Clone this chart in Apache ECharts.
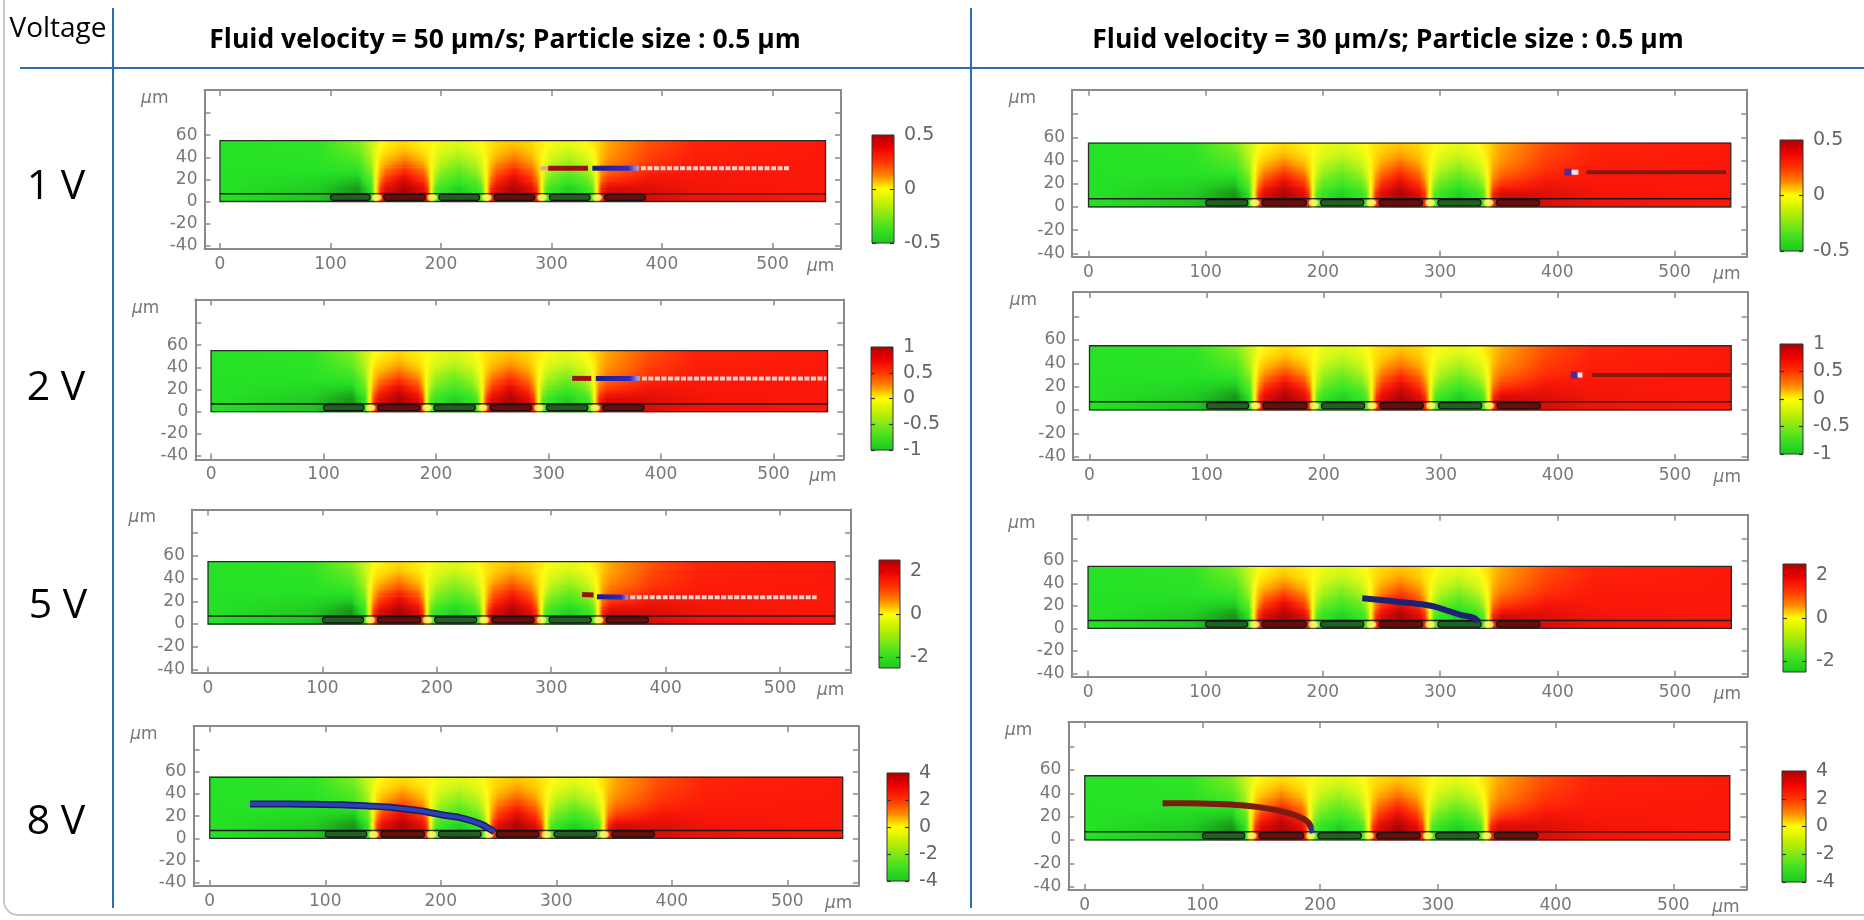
<!DOCTYPE html>
<html><head><meta charset="utf-8">
<script src="https://cdn.jsdelivr.net/npm/echarts@6/dist/echarts.min.js"></script>
<style>html,body{margin:0;padding:0;background:#fff}#c{width:1864px;height:920px}</style>
</head><body><div id="c"></div>
<script>
// ================= DATA =================
const VOLTAGE_LABELS = ['1 V', '2 V', '5 V', '8 V'];
const VOLTAGES = [1, 2, 5, 8];
const COLUMN_TITLES = ['Fluid velocity = 50 µm/s; Particle size : 0.5 µm', 'Fluid velocity = 30 µm/s; Particle size : 0.5 µm'];
const X_TICKS = [0, 100, 200, 300, 400, 500];
const Y_TICKS = [-40, -20, 0, 20, 40, 60, 80];
const Y_LABELS = [-40, -20, 0, 20, 40, 60];
const X_RANGE = [-14, 562];
const Y_RANGE = [-43, 101];
const CB_TICKS = [[-0.5, 0, 0.5], [-1, -0.5, 0, 0.5, 1], [-2, 0, 2], [-4, -2, 0, 2, 4]];

// channel geometry (µm): x0, x1, y0, y1, electrode-layer top
const CHANNEL = [0, 548, 0, 55, 7];
// electrodes: x start, x end, polarity
const ELECTRODES = [[100, 136, -1], [148, 186, 1], [198, 235, -1], [248, 285, 1], [298, 335, -1], [348, 385, 1]];
const ELECTRODE_Y = [1, 6.3];
const GAPS = [142, 192, 241.5, 291.5, 341.5];
const GAP_Y = 3.5;

// normalised potential field (same pattern in every panel)
const FIELD_X = [0, 90, 125, 137, 141, 145, 150, 167, 184, 188, 191, 195, 200, 216, 232, 237, 241, 245, 250, 266, 282, 287, 291, 295, 300, 316, 332, 337, 341, 345, 352, 390, 430, 548];
const FIELD_Y = [0, 13, 19, 25, 31, 37, 43, 49, 55];
const FIELD_B1 = [-0.72, -0.78, -0.9, -0.72, 0, 0.7, 0.85, 0.93, 0.85, 0.7, 0, -0.6, -0.7, -0.78, -0.7, -0.6, 0, 0.7, 0.85, 0.93, 0.85, 0.7, 0, -0.6, -0.7, -0.78, -0.7, -0.6, 0, 0.75, 0.88, 0.82, 0.76, 0.72];
const FIELD_B2 = [-0.72, -0.75, -0.83, -0.6, -0.02, 0.5, 0.72, 0.88, 0.72, 0.5, 0, -0.42, -0.58, -0.7, -0.58, -0.42, 0, 0.5, 0.72, 0.88, 0.72, 0.5, 0, -0.42, -0.56, -0.7, -0.56, -0.42, 0.01, 0.55, 0.72, 0.78, 0.74, 0.72];
const FIELD_B3 = [-0.72, -0.74, -0.76, -0.5, -0.03, 0.36, 0.58, 0.8, 0.58, 0.36, 0, -0.3, -0.46, -0.6, -0.46, -0.3, 0.01, 0.38, 0.6, 0.8, 0.6, 0.38, 0.01, -0.3, -0.44, -0.6, -0.43, -0.28, 0.02, 0.42, 0.58, 0.74, 0.73, 0.72];
const FIELD_B4 = [-0.72, -0.72, -0.7, -0.4, -0.05, 0.26, 0.44, 0.66, 0.44, 0.25, 0, -0.22, -0.36, -0.5, -0.35, -0.2, 0.02, 0.3, 0.48, 0.68, 0.48, 0.28, 0.02, -0.2, -0.33, -0.48, -0.32, -0.18, 0.04, 0.34, 0.48, 0.68, 0.72, 0.72];
const FIELD_B5 = [-0.72, -0.71, -0.62, -0.32, -0.07, 0.18, 0.3, 0.5, 0.3, 0.16, 0, -0.15, -0.27, -0.4, -0.26, -0.13, 0.03, 0.22, 0.36, 0.54, 0.36, 0.2, 0.03, -0.12, -0.24, -0.37, -0.22, -0.1, 0.06, 0.28, 0.4, 0.63, 0.71, 0.72];
const FIELD_B6 = [-0.72, -0.7, -0.55, -0.27, -0.09, 0.1, 0.19, 0.36, 0.19, 0.1, 0.01, -0.1, -0.19, -0.3, -0.18, -0.08, 0.04, 0.16, 0.26, 0.41, 0.26, 0.14, 0.04, -0.06, -0.16, -0.27, -0.14, -0.04, 0.08, 0.24, 0.35, 0.6, 0.7, 0.72];
const FIELD_B7 = [-0.72, -0.69, -0.48, -0.23, -0.11, 0.04, 0.1, 0.24, 0.1, 0.05, 0.01, -0.06, -0.12, -0.21, -0.11, -0.03, 0.05, 0.12, 0.19, 0.3, 0.19, 0.1, 0.05, -0.02, -0.09, -0.18, -0.07, 0.02, 0.1, 0.22, 0.32, 0.57, 0.69, 0.72];
const FIELD_B8 = [-0.72, -0.68, -0.42, -0.2, -0.13, 0, 0.04, 0.15, 0.05, 0.03, 0.02, -0.03, -0.07, -0.14, -0.05, 0, 0.06, 0.1, 0.14, 0.22, 0.15, 0.08, 0.06, 0.01, -0.03, -0.1, -0.01, 0.06, 0.12, 0.2, 0.3, 0.55, 0.68, 0.72];

// particle trajectories (x µm, y µm)
const T_1V50_HEAD = [[290, 30], [297, 30]];
const T_1V50_RED = [[297, 30], [333, 30]];
const T_1V50_BLUE = [[337, 30], [379, 30]];
const T_1V50_TRAIL = [[381, 30], [516, 30]];
const T_1V30_DOT = [[409, 30]];
const T_1V30_WHITE = [[412, 30], [418, 30]];
const T_1V30_RED = [[425, 30], [544, 30]];
const T_2V50_RED = [[321, 30], [338, 30]];
const T_2V50_BLUE = [[342, 30], [381, 30]];
const T_2V50_TRAIL = [[383, 30], [547, 30]];
const T_2V30_DOT = [[414, 30]];
const T_2V30_WHITE = [[416, 30], [421, 30]];
const T_2V30_RED = [[429, 30], [548, 30]];
const T_5V50_RED = [[327, 26], [337, 25.5]];
const T_5V50_BLUE = [[340, 24], [367, 23.5]];
const T_5V50_TRAIL = [[369, 23.5], [532, 23.5]];
const T_5V30 = [[233.6, 26.7], [249.7, 25.2], [263.3, 23.7], [277, 22.2], [288.4, 20.7], [297.5, 18.7], [304.4, 16.3], [311.2, 13.9], [318.1, 11.8], [325, 10.3], [329.5, 8.9], [332.7, 5.9]];
const T_8V50 = [[34.8, 30.9], [67.3, 30.9], [90.5, 30.6], [113.7, 30.3], [136.9, 29.1], [160, 27.6], [183.2, 24.6], [201.8, 21], [215.7, 18.9], [227.3, 15.6], [236.5, 12], [242.6, 8.1], [246.3, 6]];
const T_8V30 = [[66.1, 31.4], [87.3, 31.4], [112.6, 30.8], [132.8, 29.7], [150.5, 27.7], [165.6, 24.9], [178.3, 21.4], [185.8, 18], [190.4, 14.3], [192.4, 10]];
const T_8V30_TIP = [[191.8, 11.5], [192.4, 10], [193.4, 5.7]];

// ================= LAYOUT & STYLE =================
// panel order: row-major (1V-50, 1V-30, 2V-50, 2V-30, ...); box = [left, top, width, height] px
const PANEL_BOX = [
  [204.5, 89.9, 636.5, 159.1], [1072.1, 89.8, 675.1, 167.0],
  [195.3, 299.6, 648.0, 159.8], [1073.1, 292.1, 674.5, 168.0],
  [192.0, 509.4, 659.0, 163.4], [1071.6, 514.7, 676.2, 162.0],
  [193.6, 726.2, 665.3, 159.8], [1068.3, 722.1, 678.0, 168.0]
];
const CB_BOX = [
  [872, 135, 22, 108], [1780, 140, 23, 111],
  [871, 347, 22, 103], [1780, 344, 23, 110],
  [879, 560, 21, 108], [1783, 564, 23, 108],
  [887, 773, 22, 108], [1782, 771, 24, 111]
];
const ROW_LABEL_POS = [[56, 187], [56, 388], [58, 606], [56, 822]];
const TITLE_POS = [[505, 40], [1388, 40]];

const FIELD_CMAP = [[-1, [12, 78, 12]], [-0.9, [22, 140, 22]], [-0.72, [38, 226, 38]], [-0.45, [112, 236, 32]], [-0.2, [200, 246, 24]], [0, [255, 252, 20]], [0.2, [255, 200, 0]], [0.4, [255, 128, 0]], [0.6, [255, 60, 6]], [0.72, [252, 24, 8]], [0.88, [196, 8, 6]], [1, [118, 0, 0]]];
const CB_STOPS = [[0, '#b00000'], [0.12, '#ee0000'], [0.25, '#ff3300'], [0.38, '#ff8800'], [0.5, '#ffff00'], [0.62, '#c8f000'], [0.75, '#80e818'], [0.88, '#3ade22'], [1, '#1cc81c']];
const AXIS_GRAY = '#8a8a8a';
const LABEL_GRAY = '#777777';
const FONT_AX = 'DejaVu Sans';

function fieldColor(v) {
  v = Math.max(-1, Math.min(1, v));
  for (let i = 0; i < FIELD_CMAP.length - 1; i++) {
    const a = FIELD_CMAP[i], b = FIELD_CMAP[i + 1];
    if (v <= b[0]) {
      const t = (v - a[0]) / (b[0] - a[0]);
      const c = a[1].map((x, k) => Math.round(x + (b[1][k] - x) * t));
      return 'rgb(' + c.join(',') + ')';
    }
  }
  return 'rgb(118,0,0)';
}
const FIELD_ROWS = [FIELD_B1, FIELD_B2, FIELD_B3, FIELD_B4, FIELD_B5, FIELD_B6, FIELD_B7, FIELD_B8];
function bandGradient(row) {
  const X = FIELD_X, L = X[X.length - 1] - X[0], stops = [];
  for (let k = 0; k < X.length - 1; k++) {
    const n = 3;
    for (let s = 0; s < n; s++) {
      const t = s / n;
      stops.push({ offset: (X[k] + (X[k + 1] - X[k]) * t - X[0]) / L, color: fieldColor(row[k] + (row[k + 1] - row[k]) * t) });
    }
  }
  stops.push({ offset: 1, color: fieldColor(row[row.length - 1]) });
  return new echarts.graphic.LinearGradient(0, 0, 1, 0, stops);
}
const BAND_FILLS = FIELD_ROWS.map(bandGradient);

// each band is shaded with its own gradient; its edges are softened toward the neighbouring band
function fieldRender(params, api) {
  const b = params.dataIndex, nb = FIELD_ROWS.length;
  const p0 = api.coord([FIELD_X[0], FIELD_Y[b + 1]]);
  const p1 = api.coord([FIELD_X[FIELD_X.length - 1], FIELD_Y[b]]);
  const x = p0[0], y = p0[1], w = p1[0] - p0[0], h = p1[1] - p0[1];
  const kids = [{ type: 'rect', shape: { x: x, y: y - 0.5, width: w, height: h + 1 }, style: { fill: BAND_FILLS[b] } }];
  if (b > 0) kids.push({ type: 'rect', shape: { x: x, y: y + h * 2 / 3, width: w, height: h / 3 + 0.5 }, style: { fill: BAND_FILLS[b - 1], opacity: 0.33 } });
  if (b < nb - 1) kids.push({ type: 'rect', shape: { x: x, y: y, width: w, height: h / 3 }, style: { fill: BAND_FILLS[b + 1], opacity: 0.33 } });
  return { type: 'group', silent: true, children: kids };
}
function channelRender(params, api) {
  const a = api.coord([api.value(0), api.value(3)]);
  const b = api.coord([api.value(1), api.value(2)]);
  const l = api.coord([api.value(0), api.value(4)]);
  return { type: 'group', silent: true, children: [
    { type: 'rect', shape: { x: a[0], y: a[1], width: b[0] - a[0], height: b[1] - a[1] }, style: { fill: 'none', stroke: '#2a2a2a', lineWidth: 1.3 } },
    { type: 'line', shape: { x1: a[0], y1: l[1], x2: b[0], y2: l[1] }, style: { stroke: '#1a1a1a', lineWidth: 1.6 } }
  ] };
}
function electrodeRender(params, api) {
  const p0 = api.coord([api.value(0), ELECTRODE_Y[1]]);
  const p1 = api.coord([api.value(1), ELECTRODE_Y[0]]);
  const pos = api.value(2) > 0;
  return { type: 'rect', silent: true, shape: { x: p0[0], y: p0[1], width: p1[0] - p0[0], height: p1[1] - p0[1], r: 3 },
    style: { fill: pos ? '#6a0c08' : '#1f621f', stroke: '#111', lineWidth: 1.1 } };
}
function cbRender(params, api) {
  const half = api.value(1);
  const p0 = api.coord([0, half]), p1 = api.coord([1, -half]);
  return { type: 'rect', silent: true, shape: { x: p0[0], y: p0[1], width: p1[0] - p0[0], height: p1[1] - p0[1] },
    style: { fill: new echarts.graphic.LinearGradient(0, 0, 0, 1, CB_STOPS.map(s => ({ offset: s[0], color: s[1] }))), stroke: '#333', lineWidth: 1 } };
}

const TRAJ_STYLE = {
  head: { color: '#e7a09c', width: 4 },
  red: { color: '#9c1212', width: 5 },
  blue: { color: new echarts.graphic.LinearGradient(0, 0, 1, 0, [{ offset: 0, color: '#1a1a80' }, { offset: 0.75, color: '#2a2ad0' }, { offset: 1, color: '#d8c8f0' }]), width: 5 },
  trail: { color: '#f4d3cf', width: 4, type: [5, 1.5] },
  white: { color: '#f2e6f0', width: 5 },
  dark: { color: '#861812', width: 4 },
  navy: { color: '#1e2272', width: 6 },
  blueUnder: { color: '#161d62', width: 7 },
  blueOver: { color: '#2f3fb4', width: 4 },
  brown: { color: '#7a1c12', width: 6 },
  tip: { color: '#2433a8', width: 5 }
};
const TRAJ_SEGMENTS = [
  [0, T_1V50_HEAD, 'head'], [0, T_1V50_RED, 'red'], [0, T_1V50_BLUE, 'blue'], [0, T_1V50_TRAIL, 'trail'],
  [1, T_1V30_WHITE, 'white'], [1, T_1V30_RED, 'dark'],
  [2, T_2V50_RED, 'red'], [2, T_2V50_BLUE, 'blue'], [2, T_2V50_TRAIL, 'trail'],
  [3, T_2V30_WHITE, 'white'], [3, T_2V30_RED, 'dark'],
  [4, T_5V50_RED, 'red'], [4, T_5V50_BLUE, 'blue'], [4, T_5V50_TRAIL, 'trail'],
  [5, T_5V30, 'navy'],
  [6, T_8V50, 'blueUnder'], [6, T_8V50, 'blueOver'],
  [7, T_8V30, 'brown'], [7, T_8V30_TIP, 'tip']
];
const TRAJ_DOTS = [[1, T_1V30_DOT], [3, T_2V30_DOT]];

// ================= OPTION =================
const grid = [], xAxis = [], yAxis = [], series = [];
const FRAME = { color: AXIS_GRAY, width: 2 };
const TICK = { color: AXIS_GRAY, width: 1.5 };
const unitRich = { i: { fontStyle: 'italic', fontSize: 17, color: LABEL_GRAY, fontFamily: FONT_AX } };

PANEL_BOX.forEach((b, i) => {
  grid.push({ left: b[0], top: b[1], width: b[2], height: b[3] });
  xAxis.push({ gridIndex: i, type: 'value', min: X_RANGE[0], max: X_RANGE[1], position: 'bottom', z: 5,
    axisLine: { show: true, onZero: false, lineStyle: FRAME },
    axisTick: { show: true, inside: true, length: 6, customValues: X_TICKS, lineStyle: TICK },
    axisLabel: { show: true, customValues: X_TICKS, margin: 7, color: LABEL_GRAY, fontSize: 17, fontFamily: FONT_AX },
    splitLine: { show: false },
    name: '{i|µ}m', nameLocation: 'end', nameGap: -34,
    nameTextStyle: { color: LABEL_GRAY, fontSize: 17, fontFamily: FONT_AX, align: 'left', verticalAlign: 'top', padding: [9, 0, 0, 0], rich: unitRich } });
  xAxis.push({ gridIndex: i, type: 'value', min: X_RANGE[0], max: X_RANGE[1], position: 'top', z: 5,
    axisLine: { show: true, onZero: false, lineStyle: FRAME },
    axisTick: { show: true, inside: true, length: 6, customValues: X_TICKS, lineStyle: TICK },
    axisLabel: { show: false }, splitLine: { show: false } });
  yAxis.push({ gridIndex: i, type: 'value', min: Y_RANGE[0], max: Y_RANGE[1], position: 'left', z: 5,
    axisLine: { show: true, onZero: false, lineStyle: FRAME },
    axisTick: { show: true, inside: true, length: 6, customValues: Y_TICKS, lineStyle: TICK },
    axisLabel: { show: true, customValues: Y_LABELS, margin: 7, color: LABEL_GRAY, fontSize: 17, fontFamily: FONT_AX },
    splitLine: { show: false },
    name: '{i|µ}m', nameLocation: 'end', nameGap: 0,
    nameTextStyle: { color: LABEL_GRAY, fontSize: 17, fontFamily: FONT_AX, align: 'right', verticalAlign: 'top', padding: [0, 36, 0, 0], rich: unitRich } });
  yAxis.push({ gridIndex: i, type: 'value', min: Y_RANGE[0], max: Y_RANGE[1], position: 'right', z: 5,
    axisLine: { show: true, onZero: false, lineStyle: FRAME },
    axisTick: { show: true, inside: true, length: 6, customValues: Y_TICKS, lineStyle: TICK },
    axisLabel: { show: false }, splitLine: { show: false } });

  const ax = { xAxisIndex: 2 * i, yAxisIndex: 2 * i };
  series.push(Object.assign({ type: 'custom', renderItem: fieldRender, data: FIELD_ROWS.map((r, k) => [k]), z: 1, silent: true, animation: false }, ax));
  series.push(Object.assign({ type: 'custom', renderItem: channelRender, data: [CHANNEL], z: 2, silent: true, animation: false }, ax));
  series.push(Object.assign({ type: 'custom', renderItem: electrodeRender, data: ELECTRODES, z: 3, silent: true, animation: false }, ax));
  series.push(Object.assign({ type: 'scatter', data: GAPS.map(g => [g, GAP_Y]), symbol: 'circle', symbolSize: [9, 6],
    itemStyle: { color: '#faf06a', shadowBlur: 3, shadowColor: '#ffff40' }, z: 4, silent: true, animation: false }, ax));
});

TRAJ_SEGMENTS.forEach(([p, data, st]) => {
  const s = TRAJ_STYLE[st];
  series.push({ type: 'line', xAxisIndex: 2 * p, yAxisIndex: 2 * p, data: data, symbol: 'none', smooth: data.length > 3 ? 0.3 : false,
    lineStyle: { color: s.color, width: s.width, type: s.type || 'solid', cap: 'butt' }, z: 6, silent: true, animation: false });
});
TRAJ_DOTS.forEach(([p, data]) => {
  series.push({ type: 'scatter', xAxisIndex: 2 * p, yAxisIndex: 2 * p, data: data, symbol: 'rect', symbolSize: 7,
    itemStyle: { color: '#2a2ab5' }, z: 7, silent: true, animation: false });
});

CB_BOX.forEach((b, j) => {
  const gi = 8 + j, row = j >> 1, half = VOLTAGES[row] / 2, ticks = CB_TICKS[row];
  grid.push({ left: b[0], top: b[1], width: b[2], height: b[3] });
  xAxis.push({ gridIndex: gi, type: 'value', min: 0, max: 1, show: false });
  yAxis.push({ gridIndex: gi, type: 'value', min: -half, max: half, position: 'right', z: 5,
    axisLine: { show: false, onZero: false },
    axisTick: { show: true, inside: true, length: 4, customValues: ticks, lineStyle: { color: '#333', width: 1.2 } },
    axisLabel: { show: true, customValues: ticks, margin: 10, color: '#666', fontSize: 19, fontFamily: FONT_AX },
    splitLine: { show: false } });
  yAxis.push({ gridIndex: gi, type: 'value', min: -half, max: half, position: 'left', z: 5,
    axisLine: { show: false, onZero: false },
    axisTick: { show: true, inside: true, length: 4, customValues: ticks, lineStyle: { color: '#333', width: 1.2 } },
    axisLabel: { show: false }, splitLine: { show: false } });
  series.push({ type: 'custom', xAxisIndex: 16 + j, yAxisIndex: 16 + 2 * j, data: [[0, half]], renderItem: cbRender, z: 1, silent: true, animation: false });
});

const BLUE = '#2e6db2';
const graphic = [
  { type: 'rect', shape: { x: 4, y: -20, width: 1900, height: 935, r: 14 }, style: { fill: 'none', stroke: '#c8c8c8', lineWidth: 2 }, silent: true },
  { type: 'line', shape: { x1: 20, y1: 68, x2: 1864, y2: 68 }, style: { stroke: BLUE, lineWidth: 2 }, silent: true },
  { type: 'line', shape: { x1: 113, y1: 8, x2: 113, y2: 908 }, style: { stroke: BLUE, lineWidth: 2 }, silent: true },
  { type: 'line', shape: { x1: 971, y1: 8, x2: 971, y2: 908 }, style: { stroke: BLUE, lineWidth: 2 }, silent: true },
  { type: 'text', x: 58, y: 29, style: { text: 'Voltage', fill: '#000', fontSize: 28, fontFamily: 'Open Sans', align: 'center', verticalAlign: 'middle' }, silent: true }
];
COLUMN_TITLES.forEach((t, k) => graphic.push({ type: 'text', x: TITLE_POS[k][0], y: TITLE_POS[k][1],
  style: { text: t, fill: '#000', fontSize: 26.5, fontWeight: 'bold', fontFamily: 'Open Sans', align: 'center', verticalAlign: 'middle' }, silent: true }));
VOLTAGE_LABELS.forEach((t, k) => graphic.push({ type: 'text', x: ROW_LABEL_POS[k][0], y: ROW_LABEL_POS[k][1],
  style: { text: t, fill: '#000', fontSize: 41, fontFamily: 'Open Sans', align: 'center', verticalAlign: 'middle' }, silent: true }));

const chart = echarts.init(document.getElementById('c'), null, { renderer: 'canvas' });
chart.setOption({ animation: false, backgroundColor: '#ffffff', grid, xAxis, yAxis, series, graphic });
</script>
</body></html>
